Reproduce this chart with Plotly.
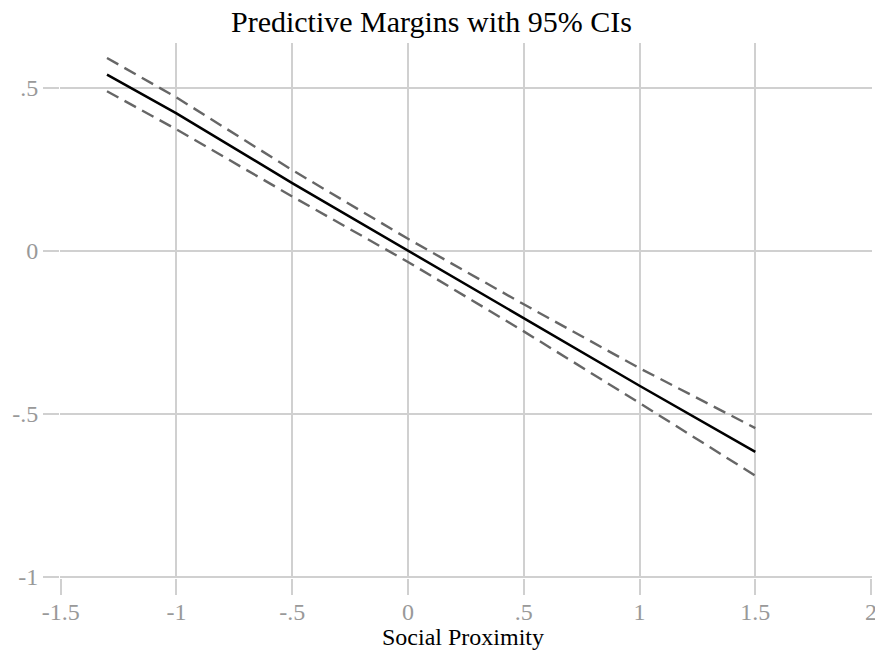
import plotly.graph_objects as go

# Data
social_proximity = [-1.3, -1.0, -0.5, 0.0, 0.5, 1.0, 1.5]
margin_mean = [0.541, 0.422, 0.208, 0.000, -0.207, -0.414, -0.617]
ci_upper = [0.592, 0.471, 0.248, 0.037, -0.164, -0.360, -0.544]
ci_lower = [0.490, 0.373, 0.167, -0.034, -0.247, -0.467, -0.690]

x_ticks = [-1.5, -1, -0.5, 0, 0.5, 1, 1.5, 2]
x_tick_labels = ["-1.5", "-1", "-.5", "0", ".5", "1", "1.5", "2"]
y_ticks = [-1, -0.5, 0, 0.5]
y_tick_labels = ["-1", "-.5", "0", ".5"]

SERIF = "Liberation Serif, Times New Roman, serif"
GRID = "#d0d0d0"

fig = go.Figure()
fig.add_trace(go.Scatter(x=social_proximity, y=ci_upper, mode="lines",
                         line=dict(color="#666666", width=2.4, dash="13px,7px"),
                         showlegend=False, hoverinfo="skip"))
fig.add_trace(go.Scatter(x=social_proximity, y=ci_lower, mode="lines",
                         line=dict(color="#666666", width=2.4, dash="13px,7px"),
                         showlegend=False, hoverinfo="skip"))
fig.add_trace(go.Scatter(x=social_proximity, y=margin_mean, mode="lines",
                         line=dict(color="black", width=2.5),
                         showlegend=False))

fig.update_layout(
    width=875, height=651,
    margin=dict(l=60, r=3, t=43, b=73, autoexpand=False),
    paper_bgcolor="white", plot_bgcolor="white",
    title=dict(text="Predictive Margins with 95% CIs",
               font=dict(family=SERIF, size=30, color="black"),
               x=431.5 / 875, xref="container", xanchor="center",
               y=1 - 21 / 651, yref="container", yanchor="middle"),
    font=dict(family=SERIF),
    annotations=[dict(text="Social Proximity", xref="paper", yref="paper",
                      x=(463 - 60) / 812, y=-(637 - 578) / 535,
                      xanchor="center", yanchor="middle", showarrow=False,
                      font=dict(family=SERIF, size=24, color="black"))],
)
fig.update_xaxes(range=[-1.503, 2.004], tickvals=x_ticks, ticktext=x_tick_labels,
                 automargin=False, ticklabelstandoff=-4, ticklabeloverflow="allow",
                 showgrid=True, gridcolor=GRID, gridwidth=1.5,
                 zeroline=False, showline=False,
                 ticks="outside", ticklen=16, tickcolor=GRID, tickwidth=1.5,
                 tickfont=dict(family=SERIF, size=24, color="#999999"))
fig.update_yaxes(range=[-1.004, 0.638], tickvals=y_ticks, ticktext=y_tick_labels,
                 automargin=False, ticklabeloverflow="allow",
                 showgrid=True, gridcolor=GRID, gridwidth=1.5,
                 zeroline=False, showline=False,
                 ticks="outside", ticklen=16, tickcolor=GRID, tickwidth=1.5,
                 tickfont=dict(family=SERIF, size=24, color="#999999"))

fig.write_html("out.html", config={"displayModeBar": False},
               post_script="document.body.style.margin='0';")
